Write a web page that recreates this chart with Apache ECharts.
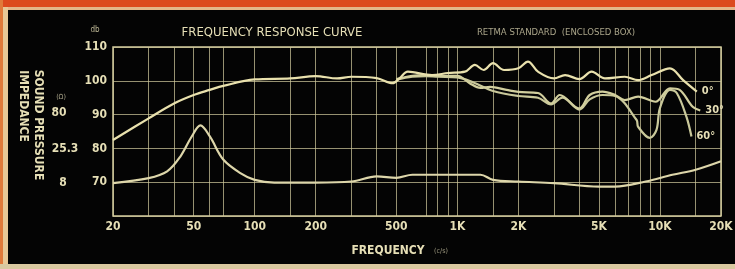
<!DOCTYPE html>
<html>
<head>
<meta charset="utf-8">
<script src="https://cdn.jsdelivr.net/npm/echarts@6/dist/echarts.min.js"></script>
<style>
  html, body { margin: 0; padding: 0; background: #040404; }
  #chart { width: 735px; height: 269px; }
</style>
</head>
<body>
<div id="chart"></div>
<script>
const FONT = '"DejaVu Sans Condensed", "Liberation Sans Narrow", "DejaVu Sans", sans-serif';
const INK = '#e6dfb6';
const GRID = 'rgba(207,199,155,0.72)';

// frequency grid (Hz) and labelled ticks
const gridFreqs = [20, 30, 40, 50, 60, 70, 100, 150, 200, 300, 400, 500, 700, 800, 900,
  1000, 1500, 2000, 3000, 4000, 5000, 6000, 7000, 8000, 9000, 10000, 15000, 20000];
const tickFreqs = [20, 50, 100, 200, 500, 1000, 2000, 5000, 10000, 20000];
const tickLabels = ['20', '50', '100', '200', '500', '1K', '2K', '5K', '10K', '20K'];

// sound pressure, on axis (0°)
const spl0 = [
  [20, 82.5], [30, 88.9], [40, 93.3], [50, 95.8], [60, 97.3], [70, 98.5], [100, 100.4],
  [150, 100.7], [200, 101.4], [255, 100.7], [300, 101.2], [400, 100.8], [480, 99.3],
  [520, 100.8], [570, 102.7], [750, 101.7], [900, 102.3], [1090, 102.7], [1220, 104.7],
  [1350, 103.2], [1500, 105.2], [1700, 103.2], [2000, 103.7], [2230, 105.7], [2500, 102.7],
  [3000, 100.7], [3400, 101.7], [4000, 100.5], [4600, 102.7], [5350, 100.7], [6700, 101.2],
  [7800, 100.2], [9100, 101.7], [11200, 103.7], [13000, 100.2], [15200, 96.8]
];
// 30° off axis
const spl30 = [
  [500, 100.5], [600, 101.5], [700, 101.7], [800, 101.5], [1000, 101.5], [1150, 99.3],
  [1300, 97.9], [1450, 98.2], [1750, 97.3], [2000, 96.7], [2500, 96.4], [2900, 93.3],
  [3200, 95.8], [4000, 91.8], [4500, 95.8], [5200, 96.8], [6000, 95.8], [6700, 94.3],
  [7800, 95.3], [9500, 93.8], [11200, 97.8], [12500, 97.3], [14500, 92.3], [15800, 91.2]
];
// 60° off axis
const spl60 = [
  [500, 100.3], [600, 101.2], [700, 101.4], [800, 101.2], [1000, 101.0], [1200, 99.5],
  [1500, 97.0], [2000, 95.5], [2500, 95.0], [2900, 93.0], [3300, 95.0], [4000, 91.5],
  [4500, 94.5], [5200, 95.8], [6000, 95.5], [7670, 88.4], [7800, 86.4], [8900, 83.1],
  [9600, 85.4], [10000, 92.0], [11200, 97.3], [12100, 96.4], [13500, 89.4], [14300, 83.5]
];
// impedance, plotted on the same grid (70 = 8 ohm, 80 = 25.3, 90 = 80)
const impedance = [
  [20, 69.7], [30, 71.2], [37, 73.2], [43, 77.6], [49, 83.6], [54, 86.8], [60, 83.6],
  [70, 76.7], [85, 72.7], [100, 70.7], [125, 69.9], [200, 69.9], [300, 70.2], [400, 71.7],
  [500, 71.3], [600, 72.2], [1000, 72.2], [1300, 72.2], [1500, 70.7], [2000, 70.2],
  [3000, 69.7], [5000, 68.7], [6000, 68.7], [8500, 70.2], [11500, 72.2], [15000, 73.7],
  [20000, 76.2]
];

const chart = echarts.init(document.getElementById('chart'), null, { renderer: 'canvas' });

const gridLines = gridFreqs.map(f => {
  const i = tickFreqs.indexOf(f);
  return {
    xAxis: f,
    label: i < 0 ? { show: false } : {
      show: true, position: 'start', distance: 5, formatter: tickLabels[i],
      color: INK, fontFamily: FONT, fontWeight: 'bold', fontSize: 12
    }
  };
});

function curve(name, data, color, label) {
  return {
    name, type: 'line', data, symbol: 'none', smooth: 0.35,
    lineStyle: { color, width: 2.2 },
    endLabel: label ? {
      show: true, formatter: label, distance: 5, color: INK,
      fontFamily: FONT, fontWeight: 'bold', fontSize: 11
    } : undefined,
    silent: true, z: 3
  };
}

function txt(x, y, text, font, fill, rotation) {
  return {
    type: 'text', x, y, rotation: rotation || 0,
    style: { text, fill: fill || INK, font: font + ' ' + FONT, align: 'center', verticalAlign: 'middle' }
  };
}

chart.setOption({
  backgroundColor: '#040404',
  animation: false,
  grid: { left: 113, right: 14, top: 47, bottom: 53, show: true, borderColor: '#d3cb9f', borderWidth: 1.5 },
  xAxis: {
    type: 'log', logBase: 10, min: 20, max: 20000,
    axisLine: { show: false }, axisTick: { show: false },
    axisLabel: { show: false }, splitLine: { show: false }, minorSplitLine: { show: false }
  },
  yAxis: {
    type: 'value', min: 60, max: 110, interval: 10,
    axisLine: { show: false }, axisTick: { show: false },
    axisLabel: {
      formatter: v => (v === 60 ? '' : String(v)), margin: 6,
      color: INK, fontFamily: FONT, fontWeight: 'bold', fontSize: 12
    },
    splitLine: { lineStyle: { color: GRID, width: 1 } }
  },
  series: [
    Object.assign(curve('impedance', impedance, '#ddd6aa'), {
      markLine: {
        silent: true, symbol: ['none', 'none'],
        lineStyle: { color: GRID, type: 'solid', width: 1 },
        data: gridLines, z: 1
      }
    }),
    curve('60°', spl60, '#c9c89a', '60°'),
    curve('30°', spl30, '#d2cf9e', '30°'),
    curve('0°', spl0, '#e9e1ad', '0°')
  ],
  graphic: [
    { type: 'rect', shape: { x: 0, y: 0, width: 735, height: 7 }, style: { fill: '#dc4a1e' } },
    { type: 'rect', shape: { x: 0, y: 7, width: 735, height: 3 }, style: { fill: '#e3b68a' } },
    { type: 'rect', shape: { x: 0, y: 0, width: 3, height: 269 }, style: { fill: '#e07a3a' } },
    { type: 'rect', shape: { x: 3, y: 7, width: 5, height: 262 }, style: { fill: '#e8c896' } },
    { type: 'rect', shape: { x: 0, y: 264, width: 735, height: 5 }, style: { fill: '#d9c9a0' } },
    txt(272, 33, 'FREQUENCY RESPONSE CURVE', '13px'),
    txt(556, 33, 'RETMA STANDARD  (ENCLOSED BOX)', '9.5px', '#aaa58a'),
    txt(95, 30, 'db', '8px', '#bdb795'),
    txt(61, 97, '(Ω)', '7px', '#a9a489'),
    txt(59, 113, '80', 'bold 12px'),
    txt(65, 149, '25.3', 'bold 12px'),
    txt(63, 183, '8', 'bold 12px'),
    txt(38, 125, 'SOUND PRESSURE', 'bold 12px', INK, -Math.PI / 2),
    txt(23, 106, 'IMPEDANCE', 'bold 12px', INK, -Math.PI / 2),
    txt(388, 251, 'FREQUENCY', 'bold 12px'),
    txt(441, 251, '(c/s)', '7px', '#9f9a80')
  ]
});
</script>
</body>
</html>
